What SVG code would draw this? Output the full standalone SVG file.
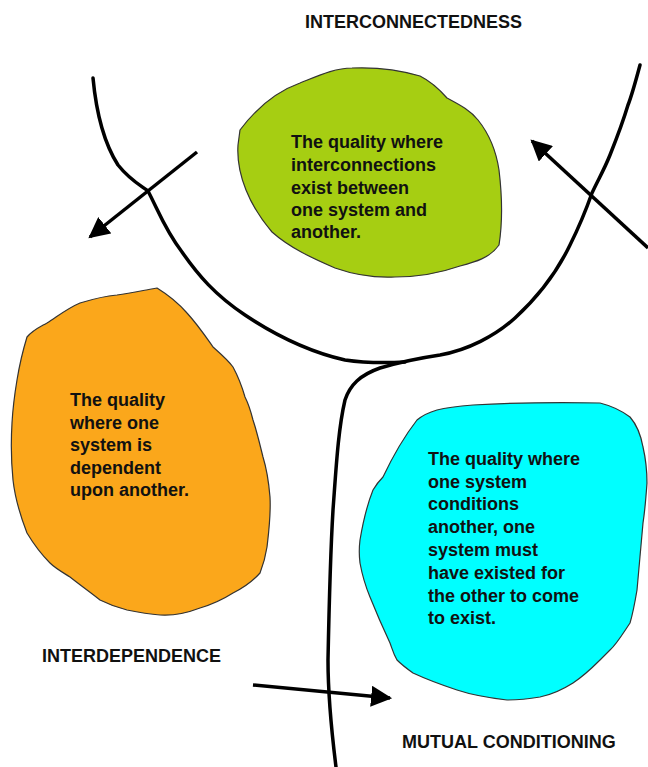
<svg xmlns="http://www.w3.org/2000/svg" width="648" height="767" viewBox="0 0 648 767">
<style>
.blob{stroke:#333;stroke-width:1.2;stroke-linejoin:round}
.t{font-family:"Liberation Sans",Arial,sans-serif;font-weight:bold;font-size:18px;fill:#111}
.lbl{font-family:"Liberation Sans",Arial,sans-serif;font-weight:bold;font-size:18px;fill:#111}
.curve{fill:none;stroke:#000;stroke-width:3.5;stroke-linecap:round;stroke-linejoin:round}
.arr{fill:none;stroke:#000;stroke-width:3.5;marker-end:url(#ah)}
</style>
<defs>
<marker id="ah" viewBox="0 0 10 10" refX="9" refY="5" markerWidth="6" markerHeight="6" markerUnits="strokeWidth" orient="auto">
<path d="M0,0 L10,5 L0,10 z" fill="#000"/>
</marker>
</defs>
<rect width="648" height="767" fill="#fff"/>
<g id="connectors">
<path class="curve" d="M93,78 C96,110 102,140 118,165 C130,180 140,185 148,191 C158,210 165,230 182,252 C198,275 215,295 245,315 C275,335 310,352 345,360 C365,363 385,363 405,362"/>
<path class="curve" d="M640,65 C636,80 632,95 628,105 C622,125 616,140 610,155 C604,170 598,180 592,193 C586,210 580,225 570,245 C558,270 540,295 515,318 C495,336 468,350 440,355 C420,358 400,362 380,368 C360,375 350,385 345,400 C338,430 336,470 333,510 C330,560 329,610 328,660 C328,700 332,735 336,767"/>
<line class="arr" x1="197" y1="152" x2="90" y2="237"/>
<line class="arr" x1="648" y1="248" x2="532" y2="141"/>
<line class="arr" x1="253" y1="685" x2="390" y2="698"/>
</g>
<g id="interconnectedness">
<path class="blob" fill="#a6ce12" d="M240,130 C255,110 275,92 300,83 C320,75 335,68 352,68 C375,67 400,70 420,76 C432,82 440,90 447,98 C460,105 470,110 478,120 C490,135 496,150 499,170 C502,195 503,220 499,245 C490,258 475,262 460,266 C440,273 420,277 395,277 C375,278 355,275 335,268 C312,258 290,248 272,232 C260,218 252,205 246,190 C240,175 237,160 238,145 Z"/>
<text class="t" x="291" y="148">The quality where</text>
<text class="t" x="291" y="171">interconnections</text>
<text class="t" x="291" y="194">exist between</text>
<text class="t" x="291" y="216">one system and</text>
<text class="t" x="291" y="238">another.</text>
<text class="lbl" x="305" y="28">INTERCONNECTEDNESS</text>
</g>
<g id="interdependence">
<path class="blob" fill="#fba71b" d="M157,288 C170,296 180,305 187,313 C198,325 206,337 213,347 C222,355 228,360 233,367 C240,380 243,390 245,397 C249,405 251,412 253,420 C257,432 260,445 263,457 C267,470 269,485 270,497 C271,515 269,530 267,547 C265,560 262,568 260,573 C252,582 243,588 233,593 C222,600 210,605 200,608 C187,613 175,616 160,615 C148,614 137,612 127,610 C115,607 108,604 100,600 C90,592 80,585 70,577 C62,572 55,568 50,563 C40,553 33,543 27,533 C20,515 15,498 13,480 C11,460 11,440 12,423 C13,405 15,392 17,380 C20,362 23,350 27,337 C33,330 40,327 47,323 C58,316 68,308 80,303 C93,299 105,296 117,295 C132,293 145,290 157,288 Z"/>
<text class="t" x="70" y="406">The quality</text>
<text class="t" x="70" y="429">where one</text>
<text class="t" x="70" y="451">system is</text>
<text class="t" x="70" y="474">dependent</text>
<text class="t" x="70" y="496">upon another.</text>
<text class="lbl" x="42" y="662">INTERDEPENDENCE</text>
</g>
<g id="mutual-conditioning">
<path class="blob" fill="#00ffff" d="M473,405 C510,403 560,402 600,403 C612,406 622,411 630,417 C637,425 641,436 643,447 C646,460 647,472 647,483 C646,497 645,510 643,523 C641,545 639,568 637,590 C635,602 633,613 630,623 C622,635 616,645 610,650 C604,656 600,660 600,660 C590,670 582,677 573,683 C562,690 550,695 540,697 C528,699 518,700 507,700 C490,698 472,695 457,690 C442,685 428,680 413,673 C406,668 401,664 397,660 C393,653 392,648 390,643 C383,628 376,612 370,597 C365,585 362,574 360,563 C359,555 359,548 360,540 C363,522 367,505 373,490 C376,485 379,481 383,477 C392,458 403,438 417,420 C423,415 430,412 437,410 C449,407 461,406 473,405 Z"/>
<text class="t" x="428" y="465">The quality where</text>
<text class="t" x="428" y="488">one system</text>
<text class="t" x="428" y="510">conditions</text>
<text class="t" x="428" y="533">another, one</text>
<text class="t" x="428" y="556">system must</text>
<text class="t" x="428" y="579">have existed for</text>
<text class="t" x="428" y="602">the other to come</text>
<text class="t" x="428" y="624">to exist.</text>
<text class="lbl" x="402" y="748">MUTUAL CONDITIONING</text>
</g>
</svg>
